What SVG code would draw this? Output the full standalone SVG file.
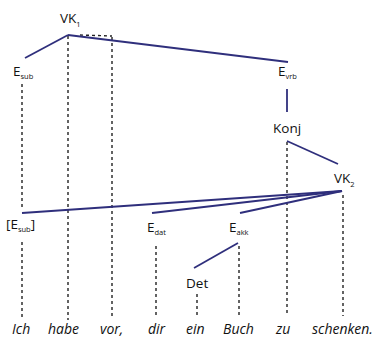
<svg xmlns="http://www.w3.org/2000/svg" width="376" height="340" viewBox="0 0 376 340">
<style>
text{font-family:"Open Sans","Noto Sans",sans-serif;fill:#111;}
.lbl{font-size:13.5px;}
.sub{font-size:7.5px;}
.word{font-size:14px;font-style:italic;}
.solid{stroke:#2f2f7c;stroke-width:1.8;fill:none;}
.dash{stroke:#222;stroke-width:1.4;stroke-dasharray:3 3;fill:none;}
</style>
<rect width="376" height="340" fill="#fff"/>
<g id="connectors">
<line class="dash" x1="80" y1="35" x2="112" y2="36"/>
<line class="dash" x1="22" y1="84" x2="22" y2="207"/>
<line class="dash" x1="22" y1="242" x2="22" y2="318"/>
<line class="dash" x1="68" y1="36" x2="68" y2="320"/>
<line class="dash" x1="112" y1="37" x2="112" y2="318"/>
<line class="dash" x1="156" y1="246" x2="156" y2="318"/>
<line class="dash" x1="197" y1="294" x2="197" y2="318"/>
<line class="dash" x1="239" y1="246" x2="239" y2="318"/>
<line class="dash" x1="287" y1="142" x2="287" y2="316"/>
<line class="dash" x1="343" y1="195" x2="343" y2="316"/>
<line class="solid" x1="25" y1="58" x2="68" y2="35"/>
<line class="solid" x1="68" y1="35" x2="288" y2="62"/>
<line class="solid" x1="287" y1="89" x2="287" y2="112"/>
<line class="solid" x1="287" y1="141" x2="338" y2="164"/>
<line class="solid" x1="22" y1="213" x2="342" y2="191"/>
<line class="solid" x1="152" y1="213" x2="342" y2="191"/>
<line class="solid" x1="240" y1="213" x2="342" y2="191"/>
<line class="solid" x1="194" y1="268" x2="238" y2="243"/>
</g>
<g id="VK1"><text class="lbl" x="60" y="23">VK<tspan class="sub" dy="4">1</tspan></text></g>
<g id="Esub"><text class="lbl" x="13" y="76">E<tspan class="sub" dy="3">sub</tspan></text></g>
<g id="Evrb"><text class="lbl" x="278" y="76">E<tspan class="sub" dy="3">vrb</tspan></text></g>
<g id="Konj"><text class="lbl" x="273" y="133">Konj</text></g>
<g id="VK2"><text class="lbl" x="334" y="183">VK<tspan class="sub" dy="4">2</tspan></text></g>
<g id="Esub2"><text class="lbl" x="6" y="229">[E<tspan class="sub" dy="3">sub</tspan><tspan dy="-3">]</tspan></text></g>
<g id="Edat"><text class="lbl" x="147" y="232">E<tspan class="sub" dy="3">dat</tspan></text></g>
<g id="Eakk"><text class="lbl" x="229" y="232">E<tspan class="sub" dy="3">akk</tspan></text></g>
<g id="Det"><text class="lbl" x="186" y="288">Det</text></g>
<g id="words">
<text class="word" x="12" y="334">Ich</text>
<text class="word" x="48" y="334">habe</text>
<text class="word" x="100" y="334">vor,</text>
<text class="word" x="148" y="334">dir</text>
<text class="word" x="186" y="334">ein</text>
<text class="word" x="223" y="334">Buch</text>
<text class="word" x="276" y="334">zu</text>
<text class="word" x="312" y="334">schenken.</text>
</g>
</svg>
